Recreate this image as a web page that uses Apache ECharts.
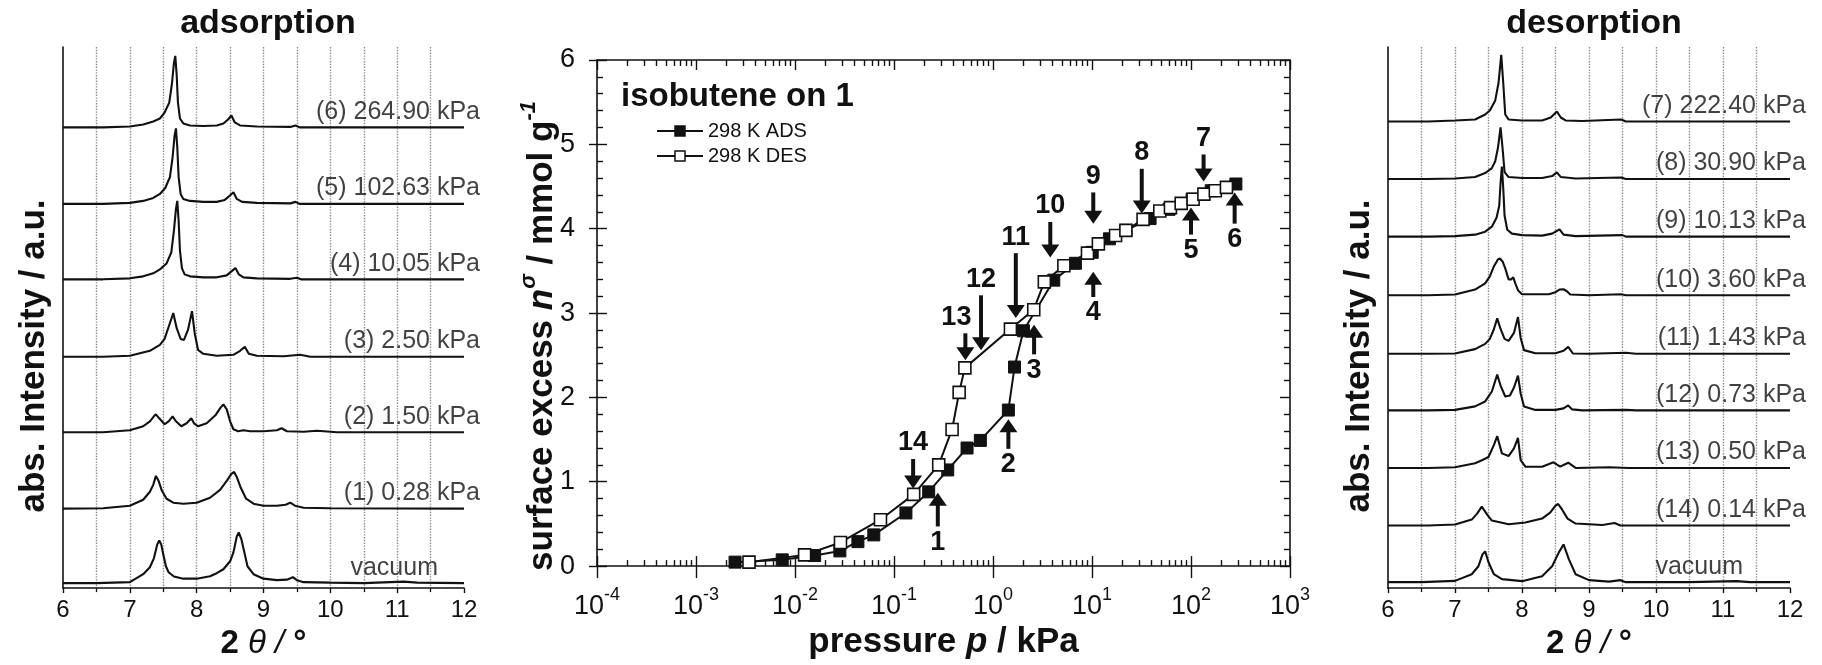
<!DOCTYPE html>
<html><head><meta charset="utf-8">
<script src="https://cdn.jsdelivr.net/npm/echarts@6/dist/echarts.min.js"></script>
<style>html,body{margin:0;padding:0;background:#fff}#c{width:1822px;height:665px}</style>
</head><body><div id="c"></div>
<script>
// ================= DATA =================
// --- XRD: 2theta / intensity (a.u., relative to each trace's own baseline) ---
const adsLabels  = ['vacuum','(1) 0.28 kPa','(2) 1.50 kPa','(3) 2.50 kPa','(4) 10.05 kPa','(5) 102.63 kPa','(6) 264.90 kPa'];
const adsOffsets = [4, 79, 156, 232, 310, 386, 463];
const adsVacuum = [[6,1],[6.5,1],[7.0,2],[7.2,10],[7.3,17],[7.36,26],[7.41,40],[7.44,44],[7.47,40],[7.5,30],[7.54,18],[7.58,12],[7.66,7.7],[7.8,5.5],[8.0,5.5],[8.2,8],[8.3,11],[8.4,15],[8.5,23],[8.55,32],[8.6,48],[8.63,52],[8.67,45],[8.72,30],[8.76,18],[8.85,10],[9.0,5.5],[9.2,4],[9.35,4.5],[9.44,7],[9.5,4],[9.6,2],[10.0,1.5],[10.5,1],[11.1,2.5],[11.3,1.5],[12,1]];
const ads1 = [[6,1],[6.6,1.5],[7.0,4],[7.2,10],[7.3,18],[7.35,25],[7.39,34],[7.43,29],[7.48,19],[7.55,11],[7.65,7],[7.8,6],[8.0,7],[8.2,12],[8.35,20],[8.45,29],[8.52,36],[8.56,38],[8.6,33],[8.66,22],[8.74,11],[8.85,6],[9.0,4],[9.2,4],[9.33,5],[9.4,7],[9.47,4],[9.6,2],[10,1.5],[12,1]];
const ads2 = [[6,1],[6.6,1],[7.0,3],[7.2,7],[7.3,12],[7.36,17],[7.39,19],[7.44,15],[7.52,9],[7.58,12],[7.64,17],[7.69,12],[7.77,7],[7.85,10],[7.92,15],[7.96,10],[8.02,7],[8.15,10],[8.28,18],[8.36,26],[8.4,29],[8.45,24],[8.5,12],[8.55,4],[8.62,2],[8.7,3],[8.8,2],[9.0,2],[9.2,3],[9.27,5],[9.35,2],[9.6,1.5],[9.8,2.5],[10.1,1],[12,1]];
const ads3 = [[6,1],[6.6,1],[7.0,2],[7.3,7],[7.45,13],[7.52,19],[7.58,31],[7.65,45],[7.7,30],[7.76,19],[7.81,18],[7.87,28],[7.93,47],[7.97,25],[8.02,8],[8.1,4],[8.3,2],[8.55,3],[8.65,7],[8.72,11],[8.78,4],[8.9,2],[9.3,1.5],[9.55,3],[9.7,1],[12,1]];
const ads4 = [[6,1],[6.6,1],[7.0,2],[7.2,4],[7.35,7],[7.45,11],[7.55,17],[7.62,28],[7.66,50],[7.69,72],[7.71,80],[7.73,60],[7.75,30],[7.78,12],[7.82,6],[7.9,4],[8.1,3],[8.3,3],[8.45,5],[8.52,9],[8.58,12.3],[8.63,6],[8.7,3],[8.9,2],[9.4,1.5],[9.5,2.5],[9.56,1],[12,1]];
const ads5 = [[6,1],[6.6,1],[7.0,2],[7.2,4],[7.35,7],[7.45,11],[7.53,17],[7.6,28],[7.64,48],[7.67,70],[7.69,77],[7.71,58],[7.73,28],[7.76,11],[7.8,6],[7.9,4],[8.1,3],[8.3,3],[8.42,5],[8.49,9],[8.55,12.7],[8.6,6],[8.68,3],[8.9,2],[9.4,1.5],[9.48,3],[9.54,1],[12,1]];
const ads6 = [[6,1],[6.6,1],[7.0,2],[7.2,4],[7.35,7],[7.45,10],[7.52,16],[7.59,26],[7.63,45],[7.66,66],[7.68,73],[7.7,55],[7.72,26],[7.75,10],[7.8,5],[7.9,3],[8.1,2.5],[8.3,3],[8.4,5],[8.47,9],[8.52,13],[8.57,6],[8.65,3],[8.9,2],[9.4,1.5],[9.48,3],[9.54,1],[12,1]];

const desLabels  = ['vacuum','(14) 0.14 kPa','(13) 0.50 kPa','(12) 0.73 kPa','(11) 1.43 kPa','(10) 3.60 kPa','(9) 10.13 kPa','(8) 30.90 kPa','(7) 222.40 kPa'];
const desOffsets = [5, 62, 120, 178, 235, 294, 353, 411, 469];
const desVacuum = [[6,1],[6.5,1],[7.0,2.3],[7.25,9],[7.35,17],[7.41,29],[7.45,32],[7.5,21],[7.58,9],[7.7,4],[8.0,2],[8.3,7],[8.45,17],[8.55,31],[8.62,39],[8.7,24],[8.8,9],[9.0,3],[9.3,1.5],[9.47,3],[9.55,1],[10.5,1],[11.2,2],[11.4,1],[12,1]];
const des14 = [[6,1],[6.6,1],[7.0,2],[7.25,7],[7.33,13],[7.40,20],[7.48,12],[7.55,6],[7.8,2.3],[8.05,4],[8.3,8],[8.42,14],[8.5,21],[8.54,22.7],[8.6,17],[8.68,8],[8.8,3],[9.2,1.5],[9.38,3.5],[9.47,1],[10,1],[12,1]];
const des13 = [[6,1],[6.6,1],[7.0,1.7],[7.3,5.7],[7.41,9],[7.5,12],[7.58,24],[7.63,33],[7.7,15.7],[7.8,13],[7.88,20.7],[7.94,31.3],[7.98,9],[8.05,2.3],[8.3,2.3],[8.47,6.7],[8.57,2.3],[8.69,6.3],[8.8,1],[9.3,1.7],[9.6,1],[12,1]];
const des12 = [[6,1],[6.6,1],[7.0,1.5],[7.3,5],[7.45,10],[7.55,20],[7.63,37],[7.68,26],[7.75,15],[7.82,16],[7.88,24],[7.94,36],[7.98,18],[8.03,5],[8.2,1.5],[8.5,1.5],[8.62,3],[8.69,6],[8.75,2],[8.9,1],[9.55,1.5],[9.7,1],[12,1]];
const des11 = [[6,1],[6.6,1],[7.0,1.3],[7.3,5.7],[7.45,11],[7.52,16],[7.58,25.7],[7.63,36.7],[7.68,26],[7.74,16],[7.8,14],[7.88,22],[7.94,38],[7.98,17],[8.03,4.7],[8.2,1.5],[8.5,1.5],[8.62,4],[8.69,8],[8.76,1.3],[9.0,1],[9.55,2],[9.7,1],[12,1]];
const des10 = [[6,1],[6.6,1],[7.0,1.7],[7.3,6.7],[7.45,13],[7.52,20],[7.58,30],[7.64,37],[7.67,38],[7.71,35],[7.75,28],[7.8,17],[7.84,17],[7.87,19],[7.9,13],[7.94,6],[8.0,2],[8.4,2],[8.5,4],[8.56,6.7],[8.62,7],[8.67,5],[8.72,1.7],[9.0,1],[9.48,2],[9.55,1],[12,1]];
const des9  = [[6,1],[6.6,1],[7.0,1.5],[7.3,3],[7.45,6],[7.55,11],[7.62,20],[7.66,32],[7.68,55],[7.70,71.6],[7.72,50],[7.74,22],[7.78,8],[7.85,4],[8.0,2.5],[8.3,2],[8.45,4],[8.56,8.3],[8.62,3],[8.8,1.5],[9.5,2.5],[9.55,1],[12,1]];
const des8  = [[6,1],[6.6,1],[7.0,1.5],[7.3,3],[7.45,7],[7.55,12],[7.6,19],[7.64,32],[7.68,53],[7.71,32],[7.74,8],[7.8,3],[8.0,2],[8.3,2],[8.45,4],[8.52,7.7],[8.58,3],[8.8,1.5],[9.48,2.5],[9.55,1],[12,1]];
const des7  = [[6,1],[6.6,1],[7.0,2],[7.3,3],[7.45,8],[7.52,12],[7.6,22],[7.65,40],[7.69,68],[7.72,40],[7.75,8],[7.8,3],[8.0,2],[8.3,2],[8.43,5],[8.52,11],[8.58,5],[8.65,2],[8.9,1.5],[9.48,3],[9.55,1],[12,1]];

const thetaMin = 6, thetaMax = 12;

// --- Isotherm: pressure p / kPa, surface excess / mmol g-1 ---
const adsP = [0.00248,0.00743,0.0158,0.0284,0.0432,0.0625,0.132,0.224,0.349,0.547,0.745,1.43,1.65,2.03,4.11,6.8,10.05,15,22,38.6,60,102.6,160,284];
const adsN = [0.047,0.074,0.125,0.18,0.29,0.37,0.63,0.88,1.14,1.40,1.49,1.85,2.36,2.79,3.39,3.59,3.72,3.88,3.98,4.12,4.23,4.35,4.45,4.53];
const desP = [0.00343,0.0125,0.0288,0.073,0.158,0.283,0.386,0.455,0.52,1.5,2.58,3.3,5.2,9.0,11.6,17.3,22,32.8,48.4,62,79.6,105,135,176,228];
const desN = [0.047,0.133,0.28,0.55,0.85,1.20,1.62,2.06,2.35,2.81,3.04,3.37,3.56,3.71,3.82,3.92,3.98,4.11,4.21,4.25,4.30,4.35,4.41,4.45,4.49];

// arrows: number, pressure, tip value, tail value
const arrowNum  = [1,2,3,4,5,6,7,8,9,10,11,12,13,14];
const arrowP    = [0.277,1.43,2.6,10.3,100,276,134,31.8,10.3,3.79,1.70,0.757,0.526,0.156];
const arrowTip  = [0.87,1.74,2.86,3.49,4.25,4.43,4.56,4.18,4.06,3.66,2.94,2.56,2.44,0.92];
const arrowTail = [0.47,1.39,2.51,3.19,3.93,4.06,4.88,4.71,4.43,4.08,3.71,3.21,2.76,1.27];

const legendNames = ['298 K ADS', '298 K DES'];
const logMin = -4, logMax = 3;   // pressure decades 10^-4 ... 10^3
const nMin = 0, nMax = 6;

// ================= CHART =================
const FONT = '"Liberation Sans", Arial, Helvetica, sans-serif';
const INK = '#111111';

const minorLogTicks = [];
for (let k = logMin; k < logMax; k++) for (let m = 2; m <= 9; m++) minorLogTicks.push(k + Math.log10(m));

function trace(pts, off, xi, yi) {
  return { type:'line', xAxisIndex:xi, yAxisIndex:yi, silent:true, symbol:'none', showSymbol:false,
    data: pts.map(d => [d[0], d[1] + off]),
    lineStyle:{ color:INK, width:2.1 }, z:2 };
}
function labels(texts, offs, xi, yi, vacOff) {
  return { type:'scatter', xAxisIndex:xi, yAxisIndex:yi, silent:true, symbolSize:0, clip:false,
    data: texts.map((t, i) => {
      const it = { value:[thetaMax, offs[i]], name:t };
      if (i === 0) it.label = { offset:[vacOff, 0] };
      return it;
    }),
    label:{ show:true, position:'top', distance:4, align:'right', formatter:'{b}', fontSize:25,
      color:INK, fontFamily:FONT, offset:[16, 0] }, z:3 };
}

function sideX(grid) {
  return { type:'value', gridIndex:grid, min:thetaMin, max:thetaMax, interval:1,
    axisLine:{ show:true, onZero:false, lineStyle:{ color:INK, width:1.6 } },
    axisTick:{ show:true, length:5, lineStyle:{ color:INK, width:1.4 } },
    minorTick:{ show:true, splitNumber:2, length:4, lineStyle:{ color:INK, width:1.3 } },
    splitLine:{ show:true, showMinLine:false, showMaxLine:false, lineStyle:{ type:'dotted', color:'#8c8c8c', width:1.4 } },
    minorSplitLine:{ show:true, lineStyle:{ type:'dotted', color:'#8c8c8c', width:1.4 } },
    axisLabel:{ fontSize:24, color:INK, margin:10, fontFamily:FONT },
    name:'{b|2 }{i|θ / }{b|°}', nameLocation:'middle', nameGap:38,
    nameTextStyle:{ rich:{
      b:{ fontSize:33, fontWeight:'bold', fontFamily:FONT, color:INK },
      i:{ fontSize:33, fontStyle:'italic', fontFamily:FONT, color:INK } } } };
}
function sideY(grid) {
  return { type:'value', gridIndex:grid, min:0, max:545,
    axisLine:{ show:true, onZero:false, lineStyle:{ color:INK, width:1.6 } },
    axisTick:{ show:false }, axisLabel:{ show:false }, splitLine:{ show:false } };
}
const tickLine = { color:INK, width:1.4 };
function logHelper(pos, custom, len, showLine) {
  const a = { type:'value', gridIndex:1, min:logMin, max:logMax, interval:1, position:pos,
    axisLine:{ show:showLine, onZero:false, lineStyle:{ color:INK, width:1.6 } },
    axisTick:{ show:true, inside:true, length:len, lineStyle:tickLine },
    axisLabel:{ show:false }, splitLine:{ show:false } };
  if (custom) a.axisTick.customValues = minorLogTicks;
  return a;
}

// legend drawn from the series style (line + square + name)
const legendGraphic = [];
legendNames.forEach((nm, i) => {
  const y = 131 + i * 25;
  legendGraphic.push({ type:'line', silent:true, shape:{ x1:657, y1:y, x2:703, y2:y }, style:{ stroke:INK, lineWidth:2 } });
  legendGraphic.push({ type:'rect', silent:true, shape:{ x:675, y:y - 5, width:10, height:10 },
    style:{ fill: i === 0 ? INK : '#fff', stroke:INK, lineWidth:1.5 } });
  legendGraphic.push({ type:'text', silent:true, x:708, y:y, style:{ text:nm, font:'20px ' + FONT, fill:INK, align:'left', verticalAlign:'middle' } });
});

const chart = echarts.init(document.getElementById('c'), null, { renderer:'canvas' });
chart.setOption({
  animation:false,
  backgroundColor:'#fff',
  textStyle:{ fontFamily:FONT },
  grid:[
    { left:63, top:47, width:401, height:545 },
    { left:597, top:60, width:693, height:511 },
    { left:1388, top:47, width:402, height:545 }
  ],
  xAxis:[
    sideX(0), sideX(2),
    { type:'log', gridIndex:1, logBase:10, min:Math.pow(10, logMin), max:Math.pow(10, logMax), splitNumber:7, position:'bottom',
      axisLine:{ show:true, onZero:false, lineStyle:{ color:INK, width:1.6 } },
      axisTick:{ show:true, inside:false, length:12, lineStyle:tickLine },
      splitLine:{ show:false },
      axisLabel:{ margin:20, color:INK,
        formatter: v => '{b|10}{s|' + Math.round(Math.log10(v)) + '}',
        rich:{ b:{ fontSize:27, fontFamily:FONT, color:INK, lineHeight:34, verticalAlign:'bottom' },
               s:{ fontSize:18, fontFamily:FONT, color:INK, lineHeight:18, verticalAlign:'top' } } },
      name:'{b|pressure }{i|p}{b| / kPa}', nameLocation:'middle', nameGap:58,
      nameTextStyle:{ rich:{
        b:{ fontSize:35, fontWeight:'bold', fontFamily:FONT, color:INK },
        i:{ fontSize:35, fontWeight:'bold', fontStyle:'italic', fontFamily:FONT, color:INK } } } },
    logHelper('bottom', false, 10, false),
    logHelper('bottom', true, 6, false),
    logHelper('top', false, 10, true),
    logHelper('top', true, 6, false)
  ],
  yAxis:[
    sideY(0), sideY(2),
    { type:'value', gridIndex:1, min:nMin, max:nMax, interval:1, position:'left',
      axisLine:{ show:true, onZero:false, lineStyle:{ color:INK, width:1.6 } },
      axisTick:{ show:true, inside:false, length:8, lineStyle:tickLine },
      axisLabel:{ fontSize:27, color:INK, margin:22, fontFamily:FONT }, splitLine:{ show:false } },
    { type:'value', gridIndex:1, min:nMin, max:nMax, interval:1, position:'left',
      axisLine:{ show:false, onZero:false }, axisTick:{ show:true, inside:true, length:10, lineStyle:tickLine },
      minorTick:{ show:true, splitNumber:5, length:6, lineStyle:tickLine },
      axisLabel:{ show:false }, splitLine:{ show:false } },
    { type:'value', gridIndex:1, min:nMin, max:nMax, interval:1, position:'right',
      axisLine:{ show:true, onZero:false, lineStyle:{ color:INK, width:1.6 } },
      axisTick:{ show:true, inside:true, length:10, lineStyle:tickLine },
      minorTick:{ show:true, splitNumber:5, length:6, lineStyle:tickLine },
      axisLabel:{ show:false }, splitLine:{ show:false } }
  ],
  graphic:[
    { type:'text', x:268, y:24, silent:true, style:{ text:'adsorption', font:'bold 34px ' + FONT, fill:INK, align:'center', verticalAlign:'middle' } },
    { type:'text', x:1594, y:24, silent:true, style:{ text:'desorption', font:'bold 34px ' + FONT, fill:INK, align:'center', verticalAlign:'middle' } },
    { type:'text', x:621, y:97, silent:true, style:{ text:'isobutene on 1', font:'bold 33px ' + FONT, fill:INK, align:'left', verticalAlign:'middle' } },
    { type:'text', x:34, y:356, rotation:Math.PI/2, silent:true, style:{ text:'abs. Intensity / a.u.', font:'bold 35px ' + FONT, fill:INK, align:'center', verticalAlign:'middle' } },
    { type:'text', x:1359, y:356, rotation:Math.PI/2, silent:true, style:{ text:'abs. Intensity / a.u.', font:'bold 35px ' + FONT, fill:INK, align:'center', verticalAlign:'middle' } },
    { type:'text', x:539, y:336, rotation:Math.PI/2, silent:true, style:{
        text:'{b|surface excess }{i|n}{s|σ}{b| / mmol g}{s|-1}', align:'center', verticalAlign:'middle', fill:INK,
        rich:{ b:{ fontSize:35, fontWeight:'bold', fontFamily:FONT, fill:INK, lineHeight:42, verticalAlign:'bottom' },
               i:{ fontSize:35, fontWeight:'bold', fontStyle:'italic', fontFamily:FONT, fill:INK, lineHeight:42, verticalAlign:'bottom' },
               s:{ fontSize:22, fontWeight:'bold', fontStyle:'italic', fontFamily:FONT, fill:INK, lineHeight:22, verticalAlign:'top' } } } }
  ].concat(legendGraphic),
  series:[
    trace(adsVacuum, adsOffsets[0], 0, 0), trace(ads1, adsOffsets[1], 0, 0), trace(ads2, adsOffsets[2], 0, 0),
    trace(ads3, adsOffsets[3], 0, 0), trace(ads4, adsOffsets[4], 0, 0), trace(ads5, adsOffsets[5], 0, 0),
    trace(ads6, adsOffsets[6], 0, 0),
    labels(adsLabels, adsOffsets, 0, 0, -26),
    trace(desVacuum, desOffsets[0], 1, 1), trace(des14, desOffsets[1], 1, 1), trace(des13, desOffsets[2], 1, 1),
    trace(des12, desOffsets[3], 1, 1), trace(des11, desOffsets[4], 1, 1), trace(des10, desOffsets[5], 1, 1),
    trace(des9, desOffsets[6], 1, 1), trace(des8, desOffsets[7], 1, 1), trace(des7, desOffsets[8], 1, 1),
    labels(desLabels, desOffsets, 1, 1, -47),
    { name:legendNames[0], type:'line', xAxisIndex:2, yAxisIndex:2, silent:true,
      data: adsP.map((p, i) => [p, adsN[i]]), symbol:'rect', symbolSize:12, showSymbol:true,
      lineStyle:{ color:INK, width:2 }, itemStyle:{ color:INK, borderColor:INK, borderWidth:1 }, z:3 },
    { name:legendNames[1], type:'line', xAxisIndex:2, yAxisIndex:2, silent:true,
      data: desP.map((p, i) => [p, desN[i]]), symbol:'rect', symbolSize:12, showSymbol:true,
      lineStyle:{ color:INK, width:2 }, itemStyle:{ color:'#ffffff', borderColor:INK, borderWidth:1.6 }, z:4 },
    { type:'custom', xAxisIndex:2, yAxisIndex:2, silent:true, clip:false, z:6,
      data: arrowNum.map((n, i) => [arrowP[i], arrowTip[i], arrowTail[i], n]),
      encode:{ x:0, y:[1, 2] },
      renderItem: function (params, api) {
        const p = api.value(0), num = api.value(3);
        const a = api.coord([p, api.value(1)]);
        const b = api.coord([p, api.value(2)]);
        const dir = a[1] > b[1] ? 1 : -1;     // 1 = pointing down
        const headL = 13, headW = 9;
        const dx = num === 13 ? -9 : 0;
        return { type:'group', children:[
          { type:'line', shape:{ x1:b[0], y1:b[1], x2:a[0], y2:a[1] - dir * (headL - 2) },
            style:{ stroke:INK, lineWidth:4 } },
          { type:'polygon', shape:{ points:[[a[0], a[1]], [a[0] - headW, a[1] - dir * headL], [a[0] + headW, a[1] - dir * headL]] },
            style:{ fill:INK } },
          { type:'text', x:b[0] + dx, y:b[1] - dir * 16,
            style:{ text:String(num), font:'bold 27px ' + FONT, fill:INK, align:'center', verticalAlign:'middle' } }
        ]};
      } }
  ]
});
</script>
</body></html>
